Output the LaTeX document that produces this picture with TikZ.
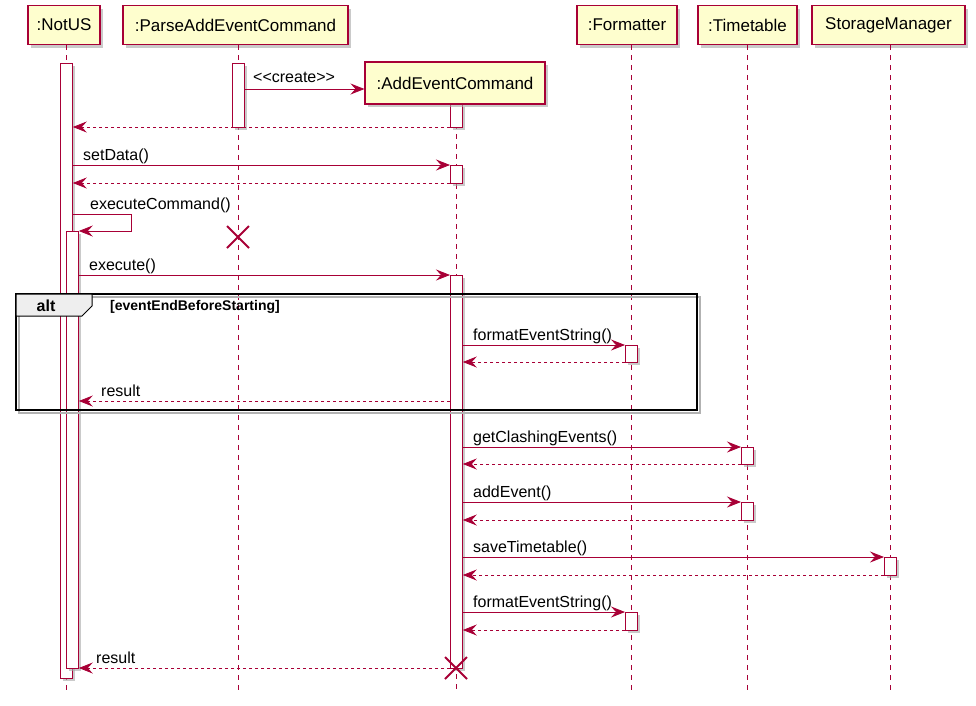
\documentclass[tikz,border=0pt]{standalone}
\usepackage{fontspec}
\setmainfont{Liberation Sans}[Ligatures=ResetAll]
\usetikzlibrary{arrows.meta,calc,shadows}
\definecolor{puRed}{HTML}{A80036}
\definecolor{puFill}{HTML}{FEFECE}
\definecolor{tabFill}{HTML}{EEEEEE}
\begin{document}
\begin{tikzpicture}[x=1pt,y=-1pt,
 shad/.style={drop shadow={shadow xshift=3pt,shadow yshift=-3pt,fill=black!35,opacity=0.6}},
 part/.style={draw=puRed, fill=puFill, line width=1.1pt, minimum height=39pt, inner sep=0pt, font=\fontsize{17}{19}\selectfont, shad},
 life/.style={draw=puRed, line width=0.8pt, dash pattern=on 5pt off 5pt},
 actbar/.style={draw=puRed, fill=white, line width=0.8pt, minimum width=12pt, inner sep=0pt, anchor=north west, shad},
 msg/.style={draw=puRed, line width=0.8pt, -{Stealth[length=14pt,width=11pt,inset=5pt]}},
 ret/.style={msg, dash pattern=on 3pt off 3pt},
 lbl/.style={font=\fontsize{16}{18}\selectfont, anchor=base west, inner sep=0pt},
 killx/.style={draw=puRed, line width=2pt}
]
\useasboundingbox (0,0) rectangle (976,705);

% participants
\node[part, minimum width=72pt]  (notus) at (64,25)  {:NotUS};
\node[part, minimum width=225pt] (parse) at (235.5,25) {:ParseAddEventCommand};
\node[part, minimum width=100pt] (fmt)   at (627,25) {:Formatter};
\node[part, minimum width=99pt]  (tt)    at (747.5,25) {:Timetable};
\node[part, minimum width=153pt] (sm)    at (888.5,25) {StorageManager};

% lifelines
\coordinate (notusE) at (66,690);
\coordinate (parseE) at (238,690);
\coordinate (addS) at (456,104);
\coordinate (addE) at (456,690);
\coordinate (fmtE) at (631,690);
\coordinate (ttE) at (747,690);
\coordinate (smE) at (890,690);
\draw[life] (66,45) -- (notusE);
\draw[life] (238,45) -- (parseE);
\draw[life] (addS) -- (addE);
\draw[life] (631,45) -- (fmtE);
\draw[life] (747,45) -- (ttE);
\draw[life] (890,45) -- (smE);

% activation bars
\node[actbar, minimum height=615pt] (nA1) at (60,63) {};
\node[actbar, minimum height=437pt] (nA2) at (66,231) {};
\node[actbar, minimum height=64pt]  (pA)  at (232,63) {};
\node[actbar, minimum height=23pt]  (aA1) at (450,104) {};
\node[actbar, minimum height=18pt]  (aA2) at (450,165) {};
\node[actbar, minimum height=393pt] (aA3) at (450,275) {};
\node[actbar, minimum height=17pt]  (fA1) at (625,345) {};
\node[actbar, minimum height=18pt]  (fA2) at (625,612) {};
\node[actbar, minimum height=17pt]  (tA1) at (741,447) {};
\node[actbar, minimum height=18pt]  (tA2) at (741,502) {};
\node[actbar, minimum height=18pt]  (sA)  at (884,557) {};

% created participant
\node[part, minimum width=180pt, minimum height=42pt] (add) at (455,83) {:AddEventCommand};

% alt frame
\draw[line width=2pt, black!30] (19,297) rectangle (700,413);
\draw[line width=2pt, black] (16,294) rectangle (697,410);
\filldraw[fill=tabFill, draw=black, line width=1pt] (16,294) -- (92,294) -- (92,306) -- (82,316) -- (16,316) -- cycle;
\node[font=\bfseries\fontsize{16}{18}\selectfont, anchor=base, inner sep=0pt] (altlbl) at (46,311) {alt};
\node[font=\bfseries\fontsize{14}{16}\selectfont, anchor=base west, inner sep=0pt] (guard) at (110,310) {[eventEndBeforeStarting]};

% messages
\draw[msg] (pA.east |- 0,89) -- node[lbl, pos=0, xshift=8pt, yshift=7pt] {<\kern0pt<create>\kern0pt>} (add.west |- 0,89);
\draw[ret] (aA1.west |- 0,127) -- (nA1.east |- 0,127);

\draw[msg] (nA1.east |- 0,165) -- node[lbl, pos=0, xshift=10pt, yshift=5pt] {setData()} (aA2.west |- 0,165);
\draw[ret] (aA2.west |- 0,183) -- (nA1.east |- 0,183);

\node[lbl] (ecl) at (90,209) {executeCommand()};
\draw[msg] (nA1.east |- 0,214) -- (131,214) -- (131,231) -- (nA2.east |- 0,231);

\draw[killx] (227,226) -- (249,248) (227,248) -- (249,226);

\draw[msg] (nA2.east |- 0,275) -- node[lbl, pos=0, xshift=10pt, yshift=5pt] {execute()} (aA3.west |- 0,275);

\draw[msg] (aA3.east |- 0,345) -- node[lbl, pos=0, xshift=10pt, yshift=5pt] {formatEventString()} (fA1.west |- 0,345);
\draw[ret] (fA1.west |- 0,362) -- (aA3.east |- 0,362);

\draw[ret] (aA3.west |- 0,401) -- node[lbl, pos=1, xshift=22pt, yshift=5pt] {result} (nA2.east |- 0,401);

\draw[msg] (aA3.east |- 0,447) -- node[lbl, pos=0, xshift=10pt, yshift=5pt] {getClashingEvents()} (tA1.west |- 0,447);
\draw[ret] (tA1.west |- 0,464) -- (aA3.east |- 0,464);

\draw[msg] (aA3.east |- 0,502) -- node[lbl, pos=0, xshift=10pt, yshift=5pt] {addEvent()} (tA2.west |- 0,502);
\draw[ret] (tA2.west |- 0,520) -- (aA3.east |- 0,520);

\draw[msg] (aA3.east |- 0,557) -- node[lbl, pos=0, xshift=10pt, yshift=5pt] {saveTimetable()} (sA.west |- 0,557);
\draw[ret] (sA.west |- 0,575) -- (aA3.east |- 0,575);

\draw[msg] (aA3.east |- 0,612) -- node[lbl, pos=0, xshift=10pt, yshift=5pt] {formatEventString()} (fA2.west |- 0,612);
\draw[ret] (fA2.west |- 0,630) -- (aA3.east |- 0,630);

\draw[ret] (aA3.west |- 0,668) -- node[lbl, pos=1, xshift=17pt, yshift=5pt] {result} (nA2.east |- 0,668);
\draw[killx] (445,657) -- (467,679) (445,679) -- (467,657);
\end{tikzpicture}
\end{document}
